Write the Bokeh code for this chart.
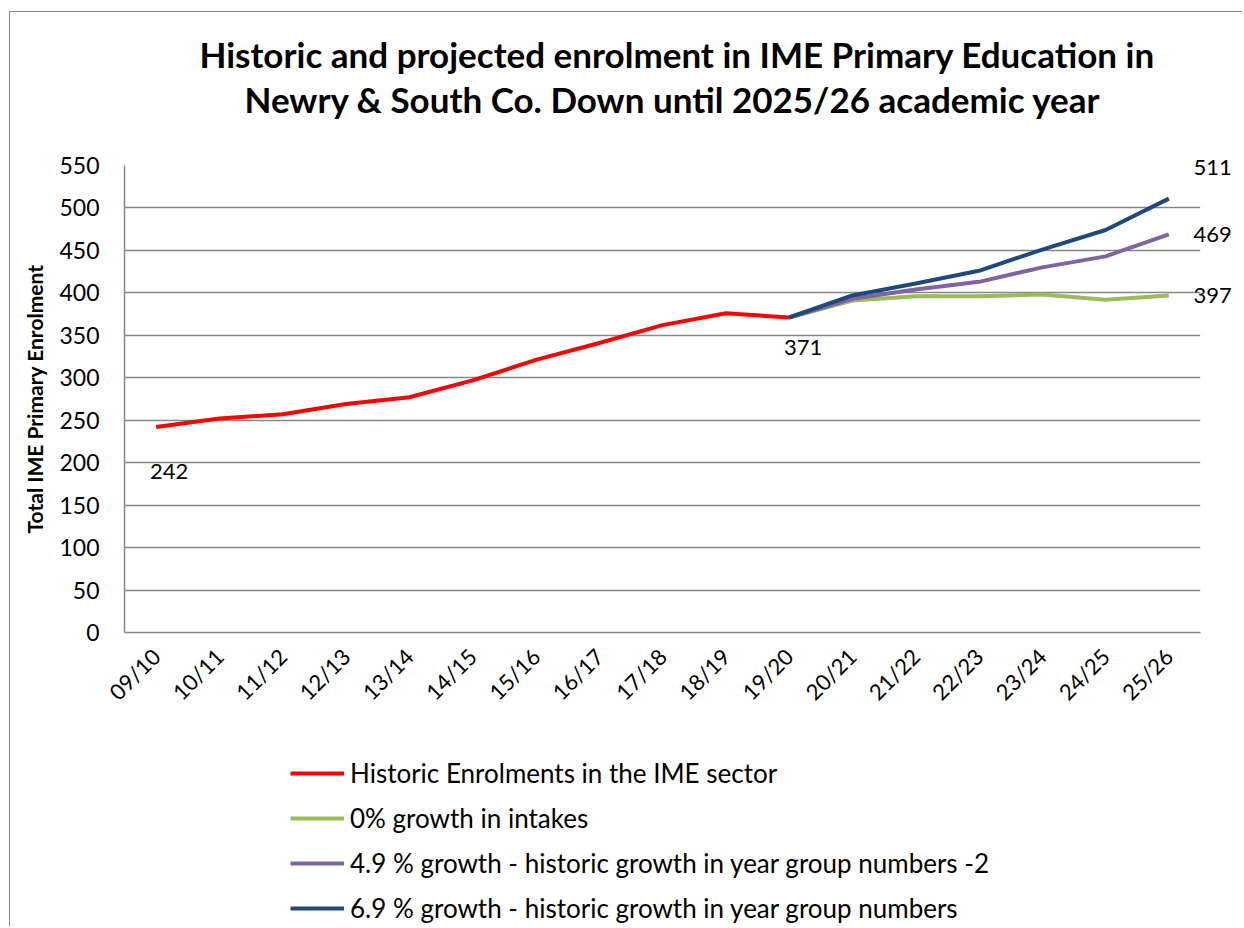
import math
from bokeh.plotting import figure
from bokeh.layouts import column
from bokeh.models import (FactorRange, Range1d, Title, Legend, LegendItem, Label,
                          SingleIntervalTicker, FixedTicker, LinearAxis)
from bokeh.embed import file_html
from bokeh.resources import INLINE

years = ["09/10", "10/11", "11/12", "12/13", "13/14", "14/15", "15/16", "16/17",
         "17/18", "18/19", "19/20", "20/21", "21/22", "22/23", "23/24", "24/25", "25/26"]
historic = [242, 252, 257, 269, 277, 297, 321, 341, 362, 376, 371]
proj_years = years[10:]
growth_0 = [371, 391, 396, 396, 398, 392, 397]
growth_49 = [371, 393, 404, 413, 430, 443, 469]
growth_69 = [371, 397, 411, 426, 451, 474, 511]

names = ["Historic Enrolments in the IME sector",
         "0% growth in intakes",
         "4.9 % growth - historic growth in year group numbers -2",
         "6.9 % growth - historic growth in year group numbers"]
colors = ["#FF0000", "#9BBB59", "#8064A2", "#1F497D"]

FONT = "Lato"
GRID = "#888888"

p = figure(x_range=FactorRange(*years), y_range=Range1d(0, 550),
           width=1232, height=728, output_backend="svg", toolbar_location=None,
           min_border_left=114, min_border_right=42, min_border_top=153, min_border_bottom=108)
p.outline_line_color = None

spacer = Title(text=" ", text_font_size="10px", standoff=32)
t2 = Title(text="Newry & South Co. Down until 2025/26 academic year", align="left", offset=120,
           text_font=FONT, text_font_size="35px", text_font_style="bold", text_color="black", standoff=1)
t1 = Title(text="Historic and projected enrolment in IME Primary Education in", align="left", offset=75,
           text_font=FONT, text_font_size="35px", text_font_style="bold", text_color="black", standoff=1)
p.add_layout(spacer, "above")
p.add_layout(t2, "above")
p.add_layout(t1, "above")

p.yaxis.ticker = SingleIntervalTicker(interval=50)
p.ygrid.grid_line_color = GRID
p.ygrid.grid_line_width = 1.5
p.xgrid.grid_line_color = None
for ax in (p.xaxis[0], p.yaxis[0]):
    ax.axis_line_color = GRID
    ax.axis_line_width = 1.5
    ax.major_tick_line_color = None
    ax.minor_tick_line_color = None
    ax.major_tick_out = 0
    ax.major_label_text_font = FONT
    ax.major_label_text_color = "black"
p.yaxis.major_label_text_font_size = "23px"
p.xaxis.major_label_text_font_size = "22px"
p.yaxis.major_label_standoff = 21
p.yaxis.axis_label = "Total IME Primary Enrolment"
p.yaxis.axis_label_text_font = FONT
p.yaxis.axis_label_text_font_size = "21px"
p.yaxis.axis_label_text_font_style = "bold"
p.yaxis.axis_label_text_color = "black"
p.yaxis.axis_label_standoff = 9
p.xaxis.major_label_orientation = math.pi / 4
p.xaxis.major_label_standoff = 20

p.line(years[:len(historic)], historic, line_color=colors[0], line_width=4)
p.line(proj_years, growth_0, line_color=colors[1], line_width=4)
p.line(proj_years, growth_49, line_color=colors[2], line_width=4)
p.line(proj_years, growth_69, line_color=colors[3], line_width=4)

# end-of-series value labels on the right (511 lifted above its line)
end_vals = [growth_69[-1], growth_49[-1], growth_0[-1]]
lift = [37, 0, 0]
label_pos = [v + d for v, d in zip(end_vals, lift)]
rax = LinearAxis(ticker=FixedTicker(ticks=label_pos),
                 major_label_overrides={float(y): str(v) for y, v in zip(label_pos, end_vals)},
                 axis_line_color=None, major_tick_line_color=None, minor_tick_line_color=None,
                 major_tick_out=0, major_label_standoff=-7,
                 major_label_text_font=FONT, major_label_text_font_size="22px",
                 major_label_text_color="black")
p.add_layout(rax, "right")

def idx(cat):
    return years.index(cat) + 0.5

lab_style = dict(text_font=FONT, text_font_size="22px", text_color="black",
                 text_align="center", text_baseline="middle")
p.add_layout(Label(x=idx(years[0]), y=historic[0], text=str(historic[0]),
                   x_offset=13, y_offset=-44, **lab_style))
p.add_layout(Label(x=idx(proj_years[0]), y=growth_0[0], text=str(growth_0[0]),
                   x_offset=14, y_offset=-30, **lab_style))

# legend panel below the chart (frame is aligned with the chart's frame by the column)
lf = figure(width=1232, height=186, output_backend="svg", toolbar_location=None,
            x_axis_type=None, y_axis_type=None, x_range=Range1d(0, 1), y_range=Range1d(0, 1),
            min_border=0, outline_line_color=None)
lf.xgrid.grid_line_color = None
lf.ygrid.grid_line_color = None
nan = float("nan")
items = []
for n, c in zip(names, colors):
    r = lf.line(x=[nan], y=[nan], line_color=c, line_width=4)
    items.append(LegendItem(label=n, renderers=[r]))
legend = Legend(items=items, location=(166, 2), orientation="vertical",
                label_text_font=FONT, label_text_font_size="26px", label_text_color="black",
                glyph_width=54, glyph_height=30, label_height=30, spacing=13,
                label_standoff=6, padding=0, margin=0,
                border_line_color=None, background_fill_alpha=0)
lf.add_layout(legend, "center")

layout = column(p, lf, spacing=0)
layout.margin = (11, 0, 0, 9)
layout.styles = {"border-top": "1.5px solid #888888", "border-left": "1.5px solid #888888"}

open("out.html", "w").write(file_html(layout, INLINE))
